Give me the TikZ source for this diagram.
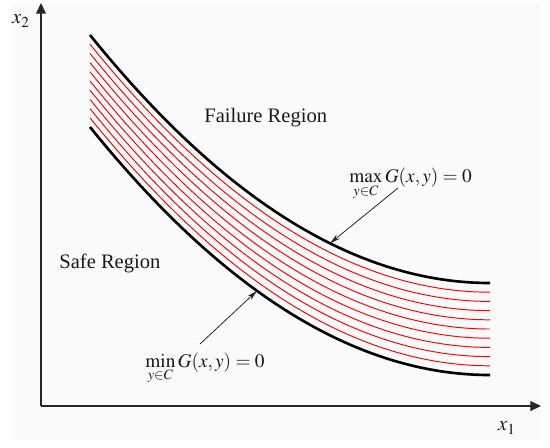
\documentclass[tikz,border=0pt]{standalone}
\usepackage{mathptmx}
\usepackage[no-math]{fontspec}
\setmainfont{Liberation Serif}
\usetikzlibrary{arrows.meta,positioning,calc}

\begin{document}
\begin{tikzpicture}[
    x=0.02cm, y=-0.02cm,
    axis/.style={-{Triangle[length=6pt, width=5.5pt]}, line width=0.75pt, draw=black!85},
    bound/.style={line width=1.5pt, draw=black},
    level/.style={line width=0.55pt, draw=red},
    lbl/.style={font=\fontsize{11.7}{14}\selectfont, text=black!90, inner sep=0pt},
    formula/.style={lbl, font=\fontsize{11}{13}\selectfont, anchor=base west},
    pointer/.style={-{Stealth[length=6pt, width=3pt]}, line width=0.45pt, draw=black!85}
]
    \useasboundingbox (0,0) rectangle (550,447);
    \fill[white] (0,0) rectangle (550,447);
    \fill[black!2] (13,3) rectangle (541,440);

    % axes
    \coordinate (origin) at (41,406);
    \coordinate (xtip) at (541,406);
    \coordinate (ytip) at (41,3);
    \draw[axis] (origin) -- (xtip);
    \draw[axis] (origin) -- (ytip);
    \node[lbl] (xlabel) at (507,428) {$x_1$};
    \node[lbl] (ylabel) at (21,21) {$x_2$};

    % band between the two limit states
    \foreach \i in {1,...,9}
        \draw[level] (90,35+9.2*\i) .. controls (223.3,200.3+9.2*\i) and (356.7,283+9.2*\i) .. (490,283+9.2*\i);
    \draw[bound] (90,35) .. controls (223.3,200.3) and (356.7,283) .. (490,283)
        coordinate[pos=0.6] (maxpt);
    \draw[bound] (90,127) .. controls (223.3,292.3) and (356.7,375) .. (490,375)
        coordinate[pos=0.4175] (minpt);

    % region labels
    \node[lbl, anchor=base west] (failure) at (204,122) {Failure Region};
    \node[lbl, anchor=base west] (safe) at (59,268) {Safe Region};

    % limit state labels
    \node[formula] (maxlabel) at (349,182) {$\max\limits_{y\in C} G(x,y)=0$};
    \node[formula] (minlabel) at (145,367) {$\min\limits_{y\in C} G(x,y)=0$};
    \coordinate (maxfrom) at (398,188);
    \coordinate (minfrom) at (200,344);
    \draw[pointer] (maxfrom) -- (maxpt);
    \draw[pointer] (minfrom) -- (minpt);
\end{tikzpicture}
\end{document}
